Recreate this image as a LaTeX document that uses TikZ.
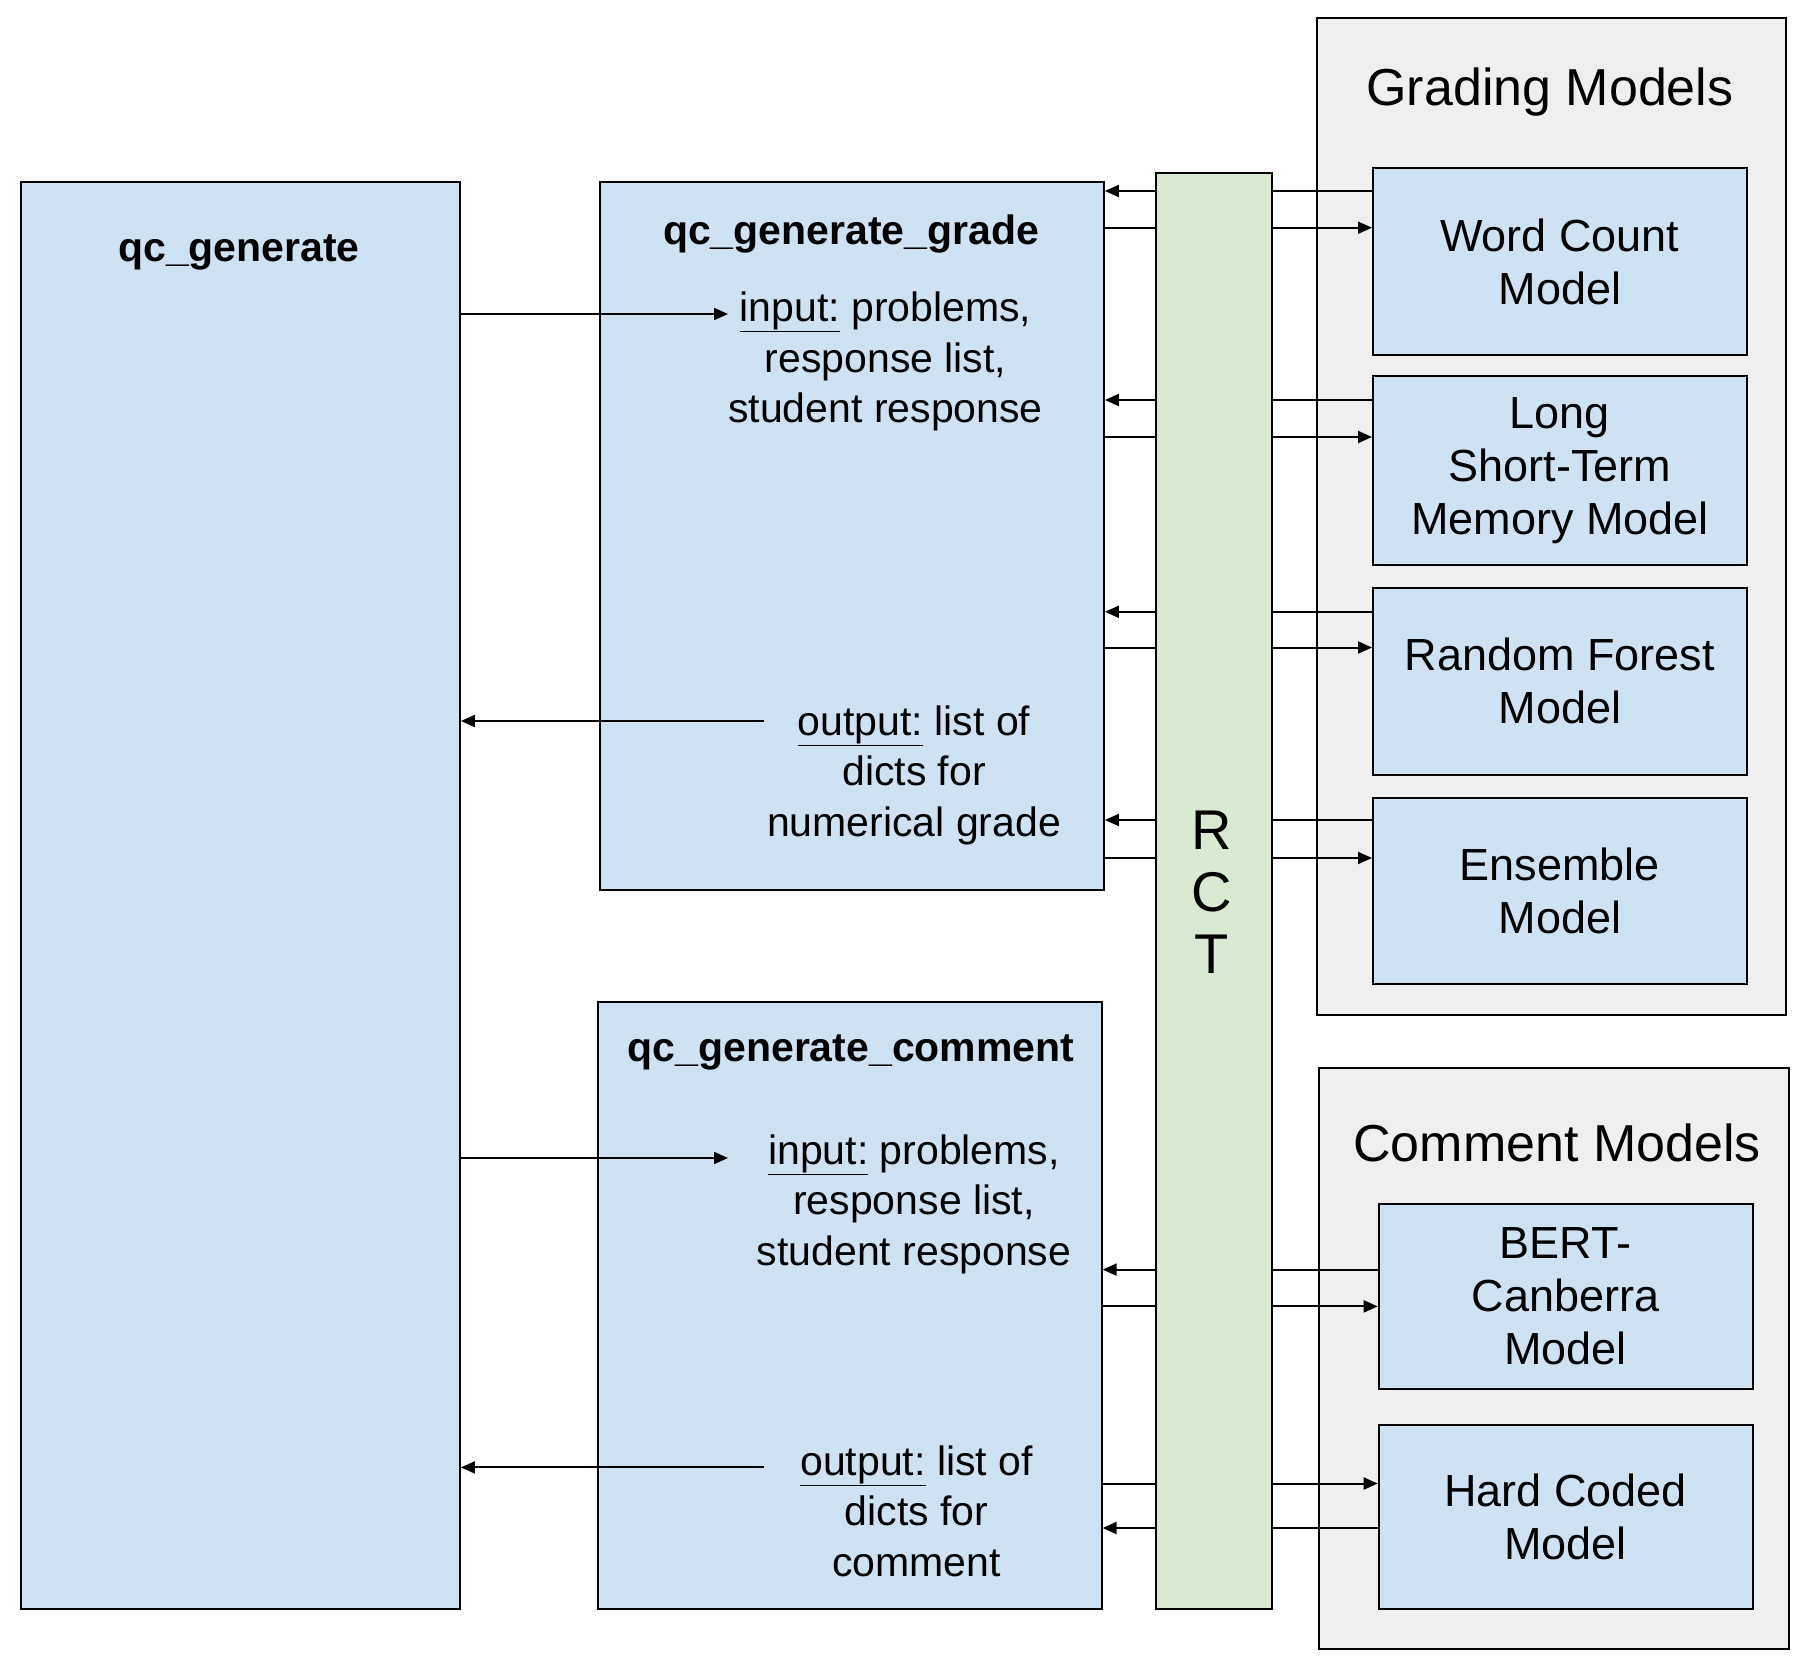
\documentclass[tikz,border=0pt]{standalone}
\usepackage{fontspec}
\setmainfont{Liberation Sans}
\usetikzlibrary{arrows.meta}
\definecolor{boxblue}{HTML}{CFE2F3}
\definecolor{rctgreen}{HTML}{D9EAD3}
\definecolor{grpgray}{HTML}{EFEFEF}
\begin{document}
\begin{tikzpicture}[x=1pt,y=-1pt,
  box/.style={draw=black, line width=2pt, fill=boxblue, rectangle, inner sep=0pt, anchor=north west},
  grp/.style={draw=black, line width=2pt, fill=grpgray, rectangle, inner sep=0pt, anchor=north west},
  rctbox/.style={draw=black, line width=2pt, fill=rctgreen, rectangle, inner sep=0pt, anchor=north west},
  model/.style={box, align=center, font=\fontsize{45}{53}\selectfont},
  ttl/.style={inner sep=0pt, font=\fontsize{41}{50}\selectfont\bfseries},
  body/.style={inner sep=0pt, align=center, font=\fontsize{41}{50.6}\selectfont},
  gttl/.style={inner sep=0pt, font=\fontsize{52}{60}\selectfont},
  ln/.style={line width=2pt},
  arr/.style={line width=2pt, -{Triangle[length=14pt,width=12pt]}}]
\useasboundingbox (0,0) rectangle (1803,1664);
% groups
\node[grp, minimum width=469.2pt, minimum height=997pt] (ggrp) at (1315.6,17.3) {};
\node[grp, minimum width=470pt, minimum height=581pt] (cgrp) at (1318,1067) {};
\node[gttl] (ggrpt) at (1550,92) {Grading Models};
\node[gttl] (cgrpt) at (1557,1143) {Comment Models};
% main boxes
\node[box, minimum width=439.4pt, minimum height=1427.1pt] (qc) at (19.5,180.6) {};
\node[box, minimum width=503.7pt, minimum height=708.4pt] (grade) at (599.2,180.6) {};
\node[box, minimum width=503.7pt, minimum height=607.2pt] (comm) at (596.9,1000.5) {};
\node[rctbox, minimum width=116.2pt, minimum height=1435.2pt] (rct) at (1154.6,172.5) {};
\node[inner sep=0pt, align=center, font=\fontsize{56}{62}\selectfont] (rctt) at (1212,892) {R\\C\\T};
% models
\node[model, minimum width=373.7pt, minimum height=187.4pt] (wc) at (1372,166.8) {Word Count\\Model};
\node[model, minimum width=373.7pt, minimum height=188.6pt] (lstm) at (1372,374.9) {Long\\Short-Term\\Memory Model};
\node[model, minimum width=373.7pt, minimum height=187.5pt] (rf) at (1372,586.5) {Random Forest\\Model};
\node[model, minimum width=373.7pt, minimum height=186pt] (ens) at (1372,797) {Ensemble\\Model};
\node[model, minimum width=373.8pt, minimum height=185pt] (bert) at (1377.7,1203) {BERT-\\Canberra\\Model};
\node[model, minimum width=373.8pt, minimum height=184pt] (hc) at (1377.7,1423.7) {Hard Coded\\Model};
% texts
\node[ttl] (qct) at (239,252.5) {qc\_generate};
\node[ttl] (gt) at (851,233.5) {qc\_generate\_grade};
\node[body] (gint) at (885.5,361.5) {\underline{input:} problems,\\response list,\\student response};
\node[body] (goutt) at (914,775) {\underline{output:} list of\\dicts for\\numerical grade};
\node[ttl] (ct) at (851,1052) {qc\_generate\_comment};
\node[body] (cint) at (914,1204) {\underline{input:} problems,\\response list,\\student response};
\node[body] (coutt) at (916.6,1511) {\underline{output:} list of\\dicts for\\comment};
% connector levels
\coordinate (y1) at (0,191);
\coordinate (y2) at (0,227.7);
\coordinate (y3) at (0,400);
\coordinate (y4) at (0,437);
\coordinate (y5) at (0,611.8);
\coordinate (y6) at (0,647.5);
\coordinate (y7) at (0,820);
\coordinate (y8) at (0,858);
\coordinate (y9) at (0,1269.6);
\coordinate (y10) at (0,1306.4);
\coordinate (y11) at (0,1483.5);
\coordinate (y12) at (0,1528);
\coordinate (gin) at (728,314);
\coordinate (gout) at (763.6,721);
\coordinate (cin) at (728,1158);
\coordinate (cout) at (763.6,1467.4);
% model -> grade/comment
\foreach \yy/\mm/\bb in {y1/wc/grade, y3/lstm/grade, y5/rf/grade, y7/ens/grade, y9/bert/comm}{
  \draw[ln] (\mm.west |- \yy) -- (rct.east |- \yy);
  \draw[arr] (rct.west |- \yy) -- (\bb.east |- \yy);
}
% grade/comment -> model
\foreach \yy/\mm/\bb in {y2/wc/grade, y4/lstm/grade, y6/rf/grade, y8/ens/grade, y10/bert/comm, y11/hc/comm}{
  \draw[ln] (\bb.east |- \yy) -- (rct.west |- \yy);
  \draw[arr] (rct.east |- \yy) -- (\mm.west |- \yy);
}
% hard coded -> comment
\draw[ln] (hc.west |- y12) -- (rct.east |- y12);
\draw[arr] (rct.west |- y12) -- (comm.east |- y12);
% qc_generate links
\draw[arr] (qc.east |- gin) -- (gin);
\draw[arr] (gout) -- (qc.east |- gout);
\draw[arr] (qc.east |- cin) -- (cin);
\draw[arr] (cout) -- (qc.east |- cout);
\end{tikzpicture}
\end{document}
